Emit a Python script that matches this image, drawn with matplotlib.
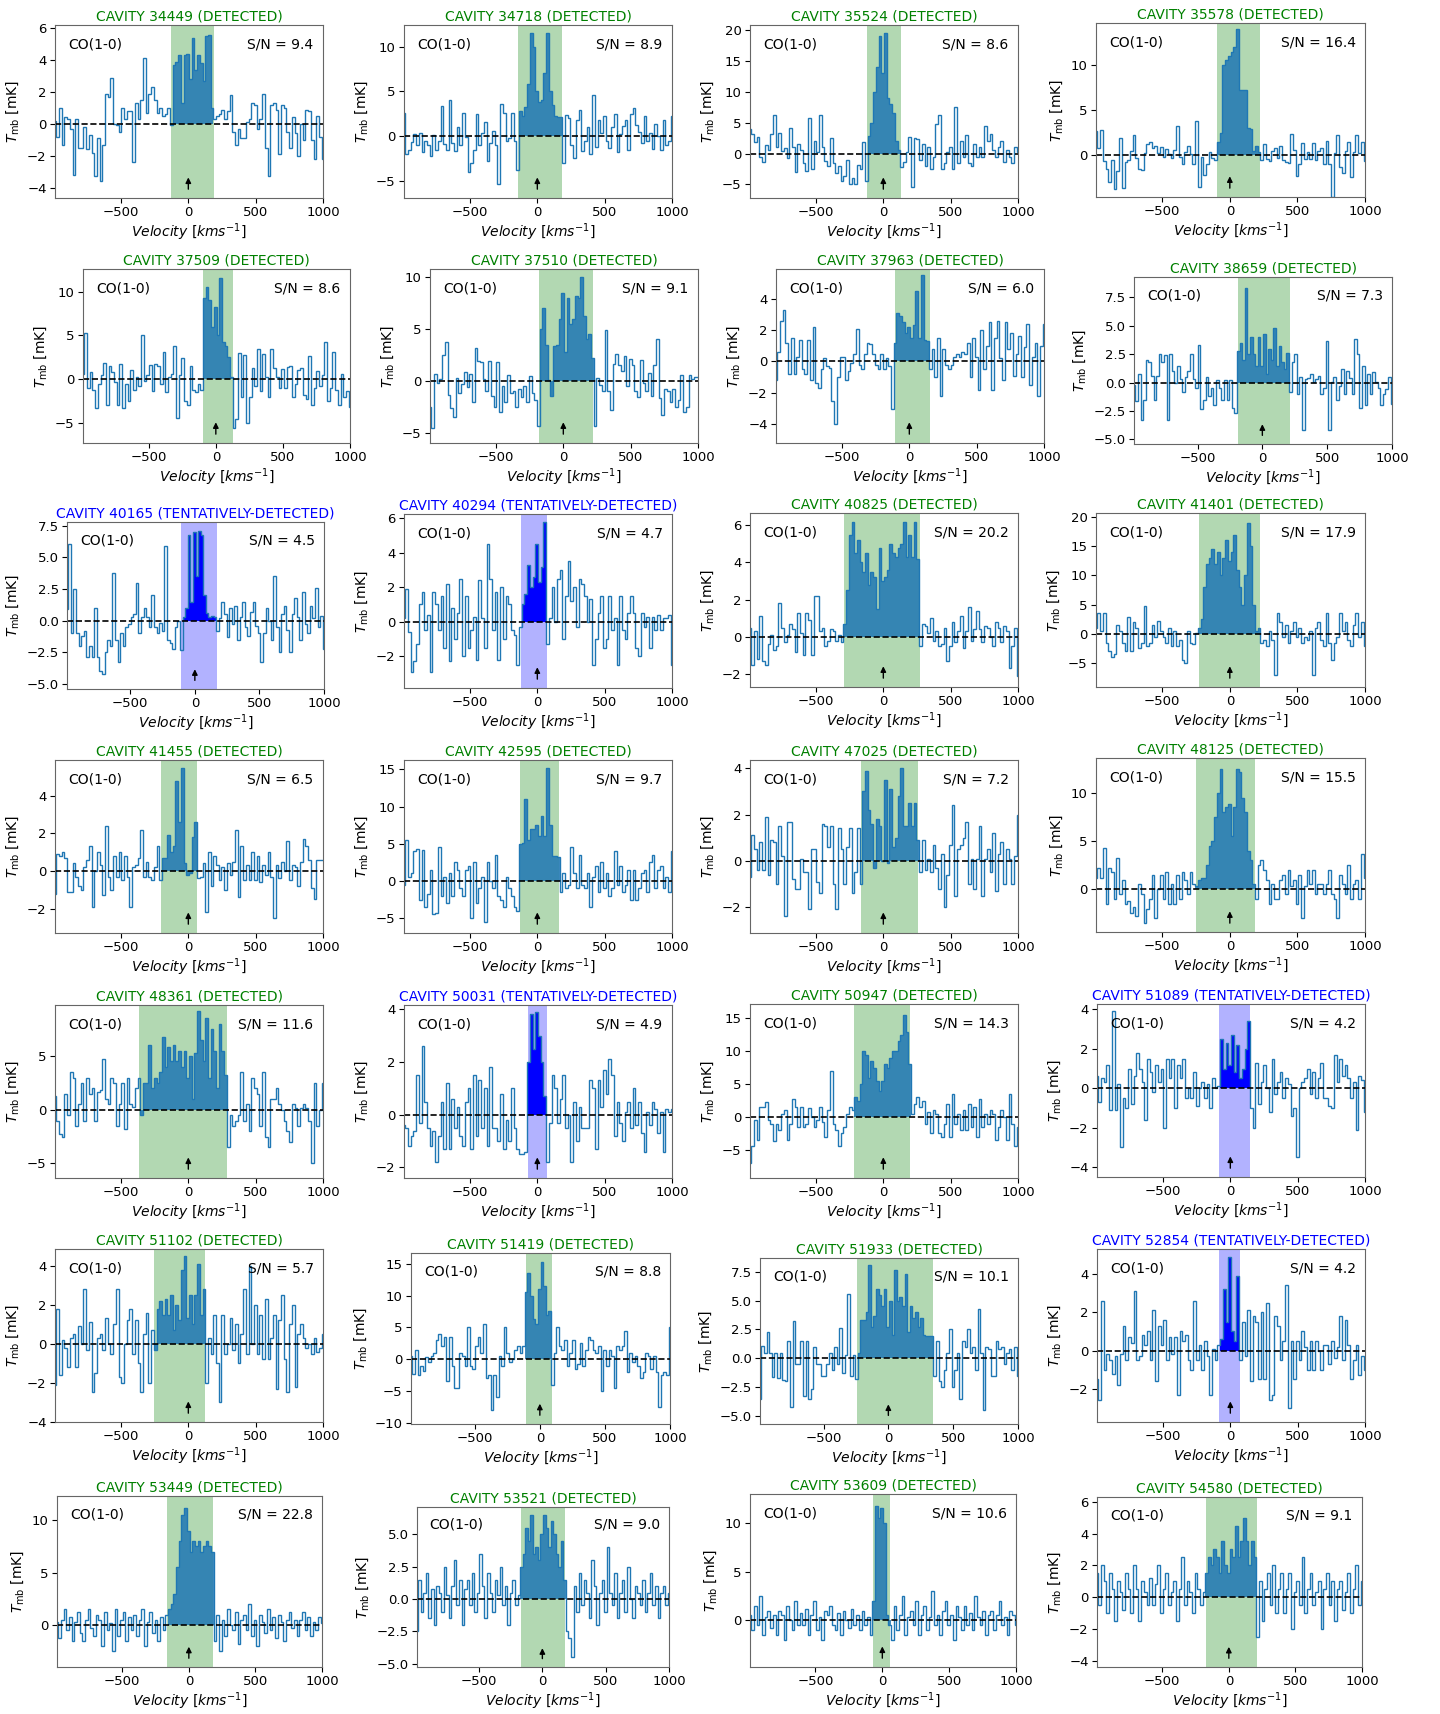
import numpy as np
import matplotlib.pyplot as plt

plt.rcParams['font.size'] = 9.5

W, H = 1440, 1714   # output size in pixels (dpi=100)

# Velocity channels (centres, km/s), common to all spectra
vel = np.linspace(-990, 1000, 100)
dv = vel[1] - vel[0]
edges = np.append(vel - dv/2, vel[-1] + dv/2)

ids = ['34449', '34718', '35524', '35578',
       '37509', '37510', '37963', '38659',
       '40165', '40294', '40825', '41401',
       '41455', '42595', '47025', '48125',
       '48361', '50031', '50947', '51089',
       '51102', '51419', '51933', '52854',
       '53449', '53521', '53609', '54580']
tentative = ['40165', '40294', '50031', '51089', '52854']
snr = [9.4, 8.9, 8.6, 16.4, 8.6, 9.1, 6.0, 7.3, 4.5, 4.7, 20.2, 17.9, 6.5, 9.7,
       7.2, 15.5, 11.6, 4.9, 14.3, 4.2, 5.7, 8.8, 10.1, 4.2, 22.8, 9.0, 10.6, 9.1]

# Line windows (km/s)
win_lo = [-130, -140, -120, -92, -96, -178, -110, -187, -104, -123, -292, -228, -202, -130,
          -164, -253, -366, -69, -216, -82, -253, -108, -245, -85, -164, -171, -67, -172]
win_hi = [188, 185, 134, 225, 130, 219, 154, 216, 168, 69, 274, 222, 68, 161,
          260, 188, 284, 69, 199, 147, 127, 94, 346, 75, 180, 180, 58, 213]

# y ranges (mK)
ylims = [(-4.65, 6.2), (-6.9, 12.4), (-7.2, 20.8), (-4.65, 14.7),
         (-7.3, 12.6), (-6.0, 10.8), (-5.2, 5.9), (-5.4, 9.3),
         (-5.4, 7.8), (-3.85, 6.25), (-2.7, 6.66), (-9.1, 20.7),
         (-3.3, 5.9), (-7.0, 16.25), (-3.12, 4.36), (-4.43, 13.6),
         (-6.35, 9.75), (-2.4, 4.16), (-9.3, 17.2), (-4.5, 4.27),
         (-4.02, 4.87), (-10.2, 16.7), (-5.7, 8.7), (-3.73, 5.3),
         (-4.0, 12.3), (-5.25, 7.1), (-4.8, 13.0), (-4.4, 6.3)]

# Axes boxes in pixels: left, right, top, bottom
boxes = [(55, 323, 25, 198), (404, 672, 25, 198), (750, 1018, 25, 198), (1096, 1365, 23, 197),
         (83, 350, 269, 443), (430, 698, 269, 443), (776, 1044, 269, 443), (1134, 1392, 277, 444),
         (67, 324, 522, 689), (404, 672, 514, 688), (750, 1018, 513, 687), (1096, 1365, 513, 687),
         (55, 323, 760, 933), (404, 672, 760, 933), (750, 1018, 760, 933), (1096, 1365, 758, 932),
         (55, 323, 1005, 1178), (404, 672, 1005, 1178), (750, 1018, 1004, 1178), (1097, 1365, 1004, 1177),
         (55, 323, 1249, 1422), (411, 670, 1253, 1424), (760, 1018, 1258, 1424), (1097, 1365, 1249, 1422),
         (57, 322, 1496, 1667), (417, 669, 1507, 1667), (750, 1016, 1494, 1667), (1097, 1362, 1497, 1667)]

# CO(1-0) main-beam temperatures (mK), one value per channel
t34449 = [0.2, -0.8, 1.0, -1.3, 0.4, 0.3, -0.3, -3.2, 0.3, -1.5,
          -1.5, -0.2, -1.6, -0.7, -1.8, -3.3, -0.9, -3.6, -1.3, 1.9,
          1.7, 2.9, 0.0, -0.1, -0.5, 1.0, 0.3, 0.8, 0.8, -2.4,
          1.3, 0.3, 1.5, 4.1, 0.7, 1.9, 2.3, 1.5, 0.7, 1.0,
          0.5, 0.6, 1.0, -0.1, 3.7, 3.9, 4.3, 1.3, 4.3, 4.4,
          2.8, 5.4, 3.4, 4.3, 3.8, 2.7, 5.5, 5.6, 1.0, 0.3,
          0.5, 0.6, 0.9, 0.3, 0.8, 1.8, -0.5, -1.3, -0.3, -0.9,
          -0.9, 0.1, 0.3, 1.3, 1.2, -0.3, 0.3, 1.9, -1.5, -3.3,
          1.2, 1.3, 0.9, -1.9, 1.2, 1.0, -0.5, -1.5, 0.4, -0.6,
          -2.0, 0.0, -1.0, 0.9, 0.8, -1.0, -2.2, 0.5, -0.8, -2.2]
t34718 = [2.6, -2.0, -1.6, -0.6, 0.2, -1.0, 0.3, -1.8, -0.5, -1.0,
          -2.2, 0.1, -1.5, -0.5, 3.4, -0.9, -1.6, 4.0, -0.8, -1.7,
          1.0, -1.0, 2.6, -0.1, -4.0, -3.0, -1.5, 2.5, -1.0, 0.4,
          1.6, -2.8, -0.8, 0.6, -1.0, -5.3, 3.6, 2.6, -0.5, -0.2,
          2.6, -0.5, -3.8, 2.8, 2.2, 3.3, 5.8, 11.5, 10.0, 5.0,
          3.8, 4.0, 7.0, 11.5, 5.0, 3.5, 2.2, 2.1, 2.1, -3.0,
          2.4, 2.0, -1.0, -2.4, 1.8, 2.9, -1.7, -0.5, 1.0, -2.0,
          4.6, -1.2, 1.8, 0.3, 2.3, -0.5, -1.3, 1.0, 2.5, -1.8,
          0.2, 1.1, 1.8, -1.5, 2.5, 3.1, 1.2, 0.5, -0.8, 2.3,
          -0.5, 0.3, -1.4, 1.3, 0.0, -1.5, 1.8, -1.0, -0.5, 2.2]
t35524 = [4.0, 3.2, 1.8, 2.6, -0.5, -1.3, 1.3, 0.6, 3.2, 6.3,
          1.0, 3.4, 0.4, 0.9, -0.8, 4.2, 1.0, -3.0, 1.6, 0.5,
          -1.5, -2.8, 5.8, -2.5, 2.0, 0.2, 6.2, 1.0, -1.2, -2.0,
          2.5, -1.5, -3.2, -2.0, -4.4, -3.6, -1.0, -5.0, -4.0, -5.0,
          -1.8, -2.5, 1.8, -4.5, 2.8, 5.0, 10.0, 14.0, 19.0, 13.0,
          19.5, 9.0, 8.0, 6.6, 2.0, 0.6, -2.2, -1.4, 0.2, 2.6,
          -5.5, 2.5, 2.4, -1.0, 1.5, -2.0, 1.0, -2.5, -0.5, 4.8,
          6.3, -2.5, -1.5, 0.3, 1.0, -2.5, 7.6, -1.5, 2.0, -0.5,
          3.0, -1.5, -2.0, 1.6, -0.5, 1.0, -0.5, 4.5, 2.0, 3.2,
          0.5, -0.6, 1.0, 2.0, -1.3, 0.5, -0.5, -1.5, 1.0, 0.3]
t35578 = [2.7, 0.8, 2.8, -0.6, -1.5, -3.0, -0.5, -3.8, -1.8, 1.9,
          -3.7, -0.8, -0.5, 0.5, 2.2, -0.3, -1.5, -1.6, 0.2, 1.2,
          1.5, 0.8, 1.0, 0.2, 0.9, -0.2, 0.7, 0.1, -0.3, 0.6,
          3.2, -0.2, -1.0, 0.3, 1.0, 0.1, -1.0, 3.8, -3.5, -0.2,
          -2.2, -1.0, 0.3, -0.3, -0.5, 1.5, 2.5, 10.0, 10.6, 11.0,
          11.5, 12.0, 14.0, 7.3, 7.3, 7.2, 3.0, 2.9, 0.5, 1.0,
          0.3, -0.5, 1.2, -0.4, -0.6, 0.5, 0.8, -0.3, 1.0, -0.5,
          -0.8, -0.9, 2.4, 0.6, -2.3, -1.0, 1.3, -0.4, 0.3, -0.4,
          1.3, -0.5, 0.5, 0.8, -1.0, 1.6, -1.0, -4.6, 0.2, 2.3,
          -1.3, -2.0, 0.5, 1.5, -2.4, 0.4, 2.2, 0.2, 1.5, -0.6]
t37509 = [0.6, 5.3, -1.0, 0.8, -1.2, -3.3, -0.5, 0.5, 1.8, -3.0,
          1.5, 0.8, -0.3, -3.0, 1.7, -3.3, -0.6, -2.5, 1.0, -1.2,
          0.3, -0.8, 5.0, -0.2, 0.5, 1.6, -1.3, 1.7, 1.5, -0.5,
          3.1, -1.5, 0.2, 0.6, 3.8, -4.4, 0.5, 2.4, -2.5, -3.0,
          1.5, -1.2, -1.5, -0.5, -1.2, 9.3, 10.5, 9.0, 6.0, 8.2,
          5.0, 11.6, 4.3, 3.8, 2.5, 0.3, -5.6, -4.5, 3.0, -2.0,
          2.8, -5.0, -2.0, 1.3, -0.8, 3.5, -1.4, 2.9, 0.2, -2.0,
          3.5, 1.3, 0.3, -1.0, 1.2, -1.0, 1.4, 1.5, -2.0, -0.5,
          1.0, 1.3, -1.8, -2.3, 2.6, -3.0, -1.0, 0.9, -0.8, 0.5,
          4.3, -2.5, -1.0, 3.1, -1.2, -3.0, 0.6, -2.0, -1.3, -3.2]
t37510 = [-2.5, -4.6, 0.7, -0.2, 0.2, 2.5, 3.8, -1.4, -2.6, -3.5,
          0.3, -1.2, -0.3, 0.9, -0.6, 0.7, -2.0, 3.2, 1.9, 1.8,
          0.2, -1.0, 1.9, -1.5, -2.5, 1.8, -3.0, -0.5, -2.0, 0.6,
          -1.2, -1.0, -2.5, -0.8, -1.6, -0.5, -2.0, 0.5, -1.2, -1.8,
          -4.4, 5.0, 7.0, 3.5, 0.1, -1.5, 3.4, 3.5, 6.0, 8.5,
          2.8, 8.0, 5.5, 6.0, 8.2, 8.0, 10.0, 6.3, 4.0, 4.5,
          2.2, -4.4, 0.3, -0.4, -1.0, 4.9, -1.0, -2.8, 1.6, 2.6,
          1.5, 1.0, 2.4, -0.5, 2.1, 1.5, -1.0, -1.6, 2.0, -0.2,
          -1.0, 0.8, -1.5, 1.5, 4.0, -1.7, -3.3, -0.8, -1.0, -2.0,
          -0.8, -2.5, -1.8, 0.6, -3.0, -2.5, 0.6, 0.2, 0.4, 0.4]
t37963 = [-1.2, 0.6, 2.6, 3.3, 1.2, -0.8, 1.5, -0.8, 0.3, 1.4,
          -0.5, -0.8, 1.4, -1.2, 2.2, -1.4, -1.7, -0.5, 0.2, -0.3,
          -0.4, -2.5, -4.0, -1.0, 0.3, 0.3, -1.2, -0.6, -0.1, 0.5,
          2.1, -0.2, -0.5, 0.5, 1.2, 1.1, 0.5, -0.2, -0.5, 0.5,
          -0.5, 0.2, -0.3, -3.0, 1.2, 3.1, 2.9, 2.5, 1.8, 2.2,
          1.5, 2.3, 4.5, 1.5, 5.5, 1.4, 1.3, -0.5, 0.8, -1.0,
          1.5, -2.2, 0.8, -0.2, -0.5, -0.2, 0.3, 0.5, 0.3, 0.6,
          0.5, 1.2, -1.0, 1.5, 0.3, -1.8, 2.0, -0.5, 1.0, 2.5,
          -1.8, 1.5, 2.6, 0.2, -1.2, 2.5, 0.8, 1.8, -0.9, 0.5,
          1.6, -1.0, 0.9, 2.4, -1.5, 0.3, 1.2, -2.2, 1.0, 2.4]
t38659 = [-0.2, -1.6, 0.8, -3.3, -1.5, 2.0, 1.8, 0.6, -1.5, 0.6,
          2.5, 1.8, 2.4, -3.3, 2.5, 1.0, 0.0, 1.5, 0.3, -0.8,
          0.5, 1.0, 2.5, 0.3, -0.5, 3.3, -2.3, -1.5, 0.5, -1.2,
          -0.5, -2.0, 0.2, -0.5, -1.5, 0.2, -1.5, 0.2, -2.2, -2.7,
          2.8, 3.5, 2.0, 8.3, 2.5, 4.0, 2.5, 1.5, 4.0, 1.5,
          4.3, 0.8, 3.0, 2.0, 4.8, 1.5, 3.2, 1.8, 1.2, 2.6,
          -0.8, 1.8, 2.5, -1.0, 0.5, -4.2, 0.3, 0.4, 0.8, 0.1,
          0.3, 0.6, -1.0, -0.5, 3.7, -4.2, 0.1, 0.5, -1.5, -0.3,
          1.2, -1.0, 1.0, 0.4, -1.0, 3.8, 2.5, -2.2, 1.5, -2.0,
          0.8, -1.0, 0.9, 0.1, -0.5, -2.0, -1.0, -0.6, 0.5, -1.9]
t40165 = [0.9, 6.1, -1.0, 2.5, -1.0, -2.0, -1.2, -0.8, -2.9, -2.0,
          -2.9, 1.0, -2.9, -4.0, -4.2, -2.5, -1.5, -2.0, 3.8, -1.5,
          -3.3, -1.0, -2.0, -0.5, -0.3, 0.3, 0.5, 3.0, -1.0, 0.3,
          1.0, 0.3, -0.5, 2.0, -0.5, -1.0, -0.2, -0.8, 5.9, -1.5,
          -1.8, -2.2, -0.5, 0.0, -2.3, 0.3, 1.0, 6.8, 1.5, 7.0,
          3.5, 7.1, 6.8, 2.0, 0.6, 0.3, 0.4, 0.3, -0.8, 0.2,
          1.5, 0.5, -1.3, 1.0, -0.3, 1.2, -1.5, 0.3, 1.5, -0.5,
          -1.2, 0.7, 1.5, -0.4, -1.0, -3.3, -1.0, 1.0, 0.0, -1.5,
          3.5, -0.5, -2.5, 0.5, 1.2, -0.7, -2.5, 0.5, 1.8, 0.3,
          -1.5, 2.3, -0.3, -1.0, 1.2, 0.2, 2.6, -0.5, 0.4, -2.2]
t40294 = [0.2, 1.9, -0.6, -2.9, -2.3, -1.3, 1.0, 1.7, -0.5, 0.4,
          -2.9, 1.7, 1.0, -0.5, 1.5, -1.5, 2.2, -2.3, 0.8, -1.0,
          0.5, 2.5, -2.0, 1.5, -1.5, -0.5, 0.3, -2.2, 2.4, 0.2,
          -1.5, 4.5, 2.5, -0.5, 1.7, -2.2, 2.0, -1.0, 1.5, 1.0,
          -0.5, -0.8, -2.5, -0.3, 1.0, 1.6, 3.3, 2.0, 2.6, 4.5,
          2.3, 3.2, 5.8, -1.3, 0.2, 2.0, 0.0, 2.5, 3.0, -1.0,
          1.5, 3.5, 1.2, 2.0, -0.3, 2.5, 2.2, 1.5, 0.0, 1.3,
          -2.5, -1.0, 0.5, 1.5, -1.5, -1.0, 1.5, -0.5, 0.2, -2.5,
          1.5, -0.5, -1.0, 0.5, 1.5, 0.5, -1.5, -2.0, 0.5, -0.3,
          0.3, -1.5, 0.3, -0.5, 0.4, -0.5, 0.2, 0.2, 0.4, -2.5]
t40825 = [0.5, -1.5, 0.3, -1.2, 1.1, -1.3, -1.5, -0.4, 0.1, -0.7,
          -0.5, 1.8, 0.5, -0.3, 0.1, 0.7, 0.4, -0.8, 1.3, 0.2,
          -1.0, 1.3, 0.9, -1.0, 2.2, 2.2, 0.3, 0.5, -0.5, -0.2,
          0.4, 0.3, -0.2, 0.1, -0.3, 0.7, 2.5, 5.5, 6.2, 4.5,
          5.2, 4.0, 3.5, 4.5, 2.8, 3.5, 3.2, 1.5, 4.8, 3.0,
          3.2, 3.6, 5.0, 4.5, 4.3, 4.8, 5.0, 6.2, 4.3, 5.5,
          4.3, 6.2, 4.2, -0.5, 0.7, 0.6, 0.2, 1.0, -0.2, 0.3,
          -0.5, -0.4, 0.5, -1.3, -0.5, 0.8, -0.3, 0.3, 1.1, -0.6,
          0.3, 1.6, -0.2, 0.4, 1.4, 0.4, -0.3, 0.6, 0.5, 0.0,
          -0.5, 0.8, 0.5, -0.3, 0.6, 0.3, -1.7, -0.5, 0.5, -2.1]
t41401 = [1.0, 3.5, 0.5, 3.5, -1.5, -3.0, -4.0, -3.5, 1.5, 0.5,
          -1.5, -3.0, 2.9, -3.0, 2.0, 1.0, -2.5, -1.5, 4.7, -2.0,
          -1.5, 1.5, -0.5, 2.2, 0.5, -0.5, -1.5, 1.0, -2.0, 0.5,
          -2.0, -1.0, -4.5, -5.0, 0.5, -1.5, -1.7, 0.2, 1.0, 2.5,
          8.0, 12.0, 13.0, 14.5, 12.0, 14.0, 10.0, 13.0, 16.0, 12.5,
          14.0, 17.0, 11.0, 8.0, 5.0, 10.0, 19.0, 15.0, 5.0, 0.5,
          1.0, -1.5, -1.0, -2.0, 0.5, -1.0, -7.0, 3.5, 2.0, -0.5,
          1.5, -1.5, 0.5, 2.0, -0.5, 1.0, -1.5, -0.5, -1.0, 0.5,
          -7.0, 1.0, 2.0, -1.0, -2.0, 3.5, -1.5, -4.5, -1.5, -0.5,
          3.5, 0.5, 2.0, -1.0, -2.0, 1.5, 3.5, -0.5, 2.0, -2.0]
t41455 = [-1.2, 0.9, 0.8, 1.0, 0.7, -1.1, -1.1, 0.4, -0.3, -0.8,
          -1.0, 0.2, 0.6, 1.3, -1.9, 0.0, 1.0, 0.3, -1.3, 2.4,
          -0.3, -1.0, 0.8, -0.3, 1.0, -0.5, 0.8, -0.3, -1.9, 0.2,
          0.3, 0.7, 2.2, -0.3, 0.5, -0.3, -0.5, 0.2, 1.3, -0.5,
          0.7, 0.7, 1.9, 1.0, 1.3, 4.8, 2.6, 5.5, 0.4, -0.2,
          -0.1, 1.8, 2.6, -0.4, -0.3, 0.4, -2.2, 1.0, -0.8, 0.8,
          0.3, -0.5, 0.2, -1.0, 0.4, -0.2, 0.5, 2.2, -1.4, 1.3,
          -0.5, 0.3, -0.5, 1.0, -0.5, 0.8, -0.6, 0.3, -0.2, 1.0,
          -0.3, -2.5, 0.3, -0.4, 0.5, 0.0, 1.6, -0.5, 0.3, 0.2,
          -0.8, 0.5, 1.7, 1.3, 0.6, -0.9, -1.5, 0.6, 0.6, 0.6]
t42595 = [-0.5, 5.5, 0.5, 1.0, 4.0, 4.3, -2.5, 4.2, -3.5, -1.8,
          1.5, -4.5, -4.3, 4.5, -2.0, 0.5, -3.0, 1.0, -2.0, 2.5,
          1.5, -1.0, -2.0, 1.5, 2.0, -5.0, 2.5, -3.0, -1.0, 0.5,
          -5.5, 2.5, 0.0, -1.0, 3.5, -2.0, -2.5, -3.5, 0.5, -1.0,
          -2.0, -3.5, -4.0, 5.0, 5.1, 11.0, 5.5, 7.0, 7.0, 7.5,
          6.0, 8.7, 6.0, 15.2, 7.5, 3.3, 3.3, 3.2, -1.5, 1.0,
          -1.0, -0.5, 4.5, 1.0, -1.0, 3.5, -0.5, -1.0, 1.0, -3.5,
          0.5, 2.0, -1.5, 2.5, -1.0, 1.0, -2.0, -1.0, 4.0, -0.5,
          2.0, -1.5, -0.5, 1.5, -2.5, 1.5, -2.5, -1.0, 1.0, 1.5,
          -1.5, 2.5, 3.5, -1.0, 1.5, 2.0, -1.0, 0.5, -1.5, 4.0]
t47025 = [-0.7, 1.1, 0.5, -0.4, 0.8, -0.4, 1.9, -0.6, 0.9, 0.8,
          -1.0, 1.5, 0.2, -2.4, 1.7, 1.7, -0.8, -1.2, -1.2, 0.1,
          -0.5, -0.5, -2.1, 0.5, 0.5, -0.9, -1.4, 1.6, 1.5, 0.6,
          1.5, -1.0, -2.1, 1.4, 0.5, -1.0, 0.6, 1.4, -1.4, -0.5,
          1.4, -1.0, 3.0, 3.9, 2.2, 1.6, -0.3, 1.8, 1.5, 0.0,
          3.5, -0.1, 3.1, 0.6, 1.0, 2.8, 4.0, 1.5, 1.5, 2.5,
          1.5, 2.5, 0.9, -0.5, 0.9, -0.4, 0.1, -0.5, 0.7, -0.3,
          -1.2, 0.3, -2.0, -0.6, 0.7, 2.4, -1.5, 0.5, 0.7, 1.0,
          1.7, -1.0, 0.1, -1.2, 0.1, 1.5, -1.5, 0.1, 0.5, -0.5,
          1.2, -1.3, 0.3, 0.8, -1.0, 0.5, 0.1, -1.0, 0.2, 2.0]
t48125 = [1.2, 2.2, 1.2, 4.3, -1.5, 2.2, 1.8, -1.0, 3.2, -0.5,
          1.0, -1.5, -1.2, -2.5, -1.8, -2.8, 0.5, -0.5, -3.5, -2.0,
          -1.0, 1.5, -3.0, 0.0, 1.5, -1.0, 1.8, -1.5, 0.5, -1.5,
          1.5, -1.0, 1.8, 1.0, -0.5, 1.8, 0.5, 0.3, 1.0, 1.2,
          1.2, 2.5, 4.5, 5.0, 7.5, 10.0, 12.5, 8.0, 8.5, 8.8,
          5.5, 8.5, 12.5, 12.2, 9.5, 8.0, 4.0, 3.0, 0.5, -1.0,
          2.5, 3.0, 2.0, 1.0, -1.5, 0.5, -1.0, -1.0, 1.0, 1.5,
          -0.5, 2.0, 0.3, 1.0, -1.5, 1.5, -3.0, 0.3, 2.0, 0.5,
          2.0, -0.5, 0.5, 0.5, -0.5, 0.5, 2.0, -0.5, -1.0, -3.0,
          1.5, 0.5, -0.5, 2.5, -1.0, 0.5, 1.0, -1.0, 3.7, 1.2]
t48361 = [1.3, -1.0, -2.3, -2.5, 1.5, -0.5, 3.5, 3.0, -1.5, 0.5,
          2.5, -1.0, 3.0, 1.5, 2.0, -1.0, 1.7, 1.8, 4.7, 1.0,
          0.5, 3.0, 2.5, -1.5, 0.5, 2.5, -1.8, 3.0, 0.5, 0.3,
          2.0, 3.0, -0.5, 2.5, 2.5, 6.0, 2.0, 3.0, 2.5, 3.5,
          6.8, 4.0, 5.8, 4.5, 6.0, 4.5, 5.5, 4.0, 5.5, 3.0,
          5.0, 1.0, 5.3, 9.2, 6.5, 4.5, 8.5, 3.0, 7.5, 5.5,
          2.0, 8.0, 5.5, 3.2, -3.5, -0.5, -1.5, -1.0, -0.5, 3.5,
          -1.0, 0.5, -2.0, 3.0, 2.0, 1.5, -1.5, 3.5, -2.5, -3.5,
          1.0, 1.0, 2.0, 0.5, 0.0, -1.0, -2.0, -3.0, 0.5, 0.2,
          -1.5, 0.2, 0.5, 0.2, -1.0, -5.0, 2.5, -1.5, 0.0, 2.5]
t50031 = [-0.4, -0.5, -1.2, -0.8, -0.6, 1.5, -0.3, 2.6, 0.5, -0.5,
          -1.2, -0.6, -1.8, -0.8, 0.5, -1.3, 1.2, -1.3, 0.6, -0.5,
          0.3, -0.8, -1.2, 0.5, 1.0, -1.3, 1.5, -0.8, 1.3, -0.5,
          1.0, -1.2, 1.8, -0.5, -0.5, -1.0, 0.8, -1.3, -0.2, -1.0,
          1.0, -0.5, -1.3, -1.5, -1.5, -1.4, 2.0, 3.8, 2.5, 3.9,
          3.0, 2.0, 0.7, -1.8, -0.3, 1.5, 1.0, -0.3, 0.6, 1.5,
          -0.5, 0.0, -1.8, 0.5, -1.0, 0.3, -0.5, -0.5, -0.5, 1.3,
          1.0, -1.3, 1.3, 0.3, 1.7, 0.8, 2.1, 1.5, -0.8, 0.5,
          -0.3, -1.0, 0.1, 0.5, -0.5, 1.0, -0.4, 0.5, -0.7, -1.4,
          0.1, -0.4, 0.5, 0.2, -0.7, 0.1, -1.4, 0.2, 0.1, 0.2]
t50947 = [-7.0, -4.5, -0.5, -3.5, 1.5, 1.5, 2.3, -0.5, -1.0, -3.7,
          -1.0, -2.0, 0.5, 1.0, -3.5, -1.0, 2.8, 1.5, -1.5, 1.5,
          -1.5, -1.0, 1.3, 0.0, -1.5, -0.5, 1.5, -0.7, -3.0, 1.0,
          7.0, -1.0, -2.0, -4.5, -2.5, -1.5, 0.5, 1.5, 1.0, 3.0,
          2.5, 5.0, 10.0, 9.5, 6.0, 8.5, 7.5, 5.5, 4.0, 5.5,
          8.0, 7.5, 9.0, 10.0, 10.0, 11.5, 12.5, 15.5, 13.0, 8.0,
          0.5, 2.0, 3.0, 1.5, 2.5, -1.0, 0.8, -2.5, 1.0, 0.5,
          -2.5, -3.0, -1.0, 2.0, -3.0, 3.5, -1.0, 0.5, -2.0, 1.0,
          -2.0, 2.0, -1.5, 1.5, -3.0, 2.8, -1.5, 0.5, -1.0, 1.0,
          0.5, -3.5, -1.5, 1.0, 0.0, -3.5, 3.5, -1.0, -4.5, -1.5]
t51089 = [0.6, -0.7, 0.5, 0.3, 1.2, -1.1, 3.9, -1.1, 0.2, -3.0,
          -0.5, -1.0, 1.0, -0.8, 0.6, 1.8, 1.0, 0.3, -1.6, 1.5,
          0.8, -0.2, 1.2, 0.3, 1.0, -2.0, 1.5, 0.5, 1.5, -1.0,
          1.2, 0.5, 1.5, -0.5, 0.0, -0.5, 0.8, -0.9, 0.0, 0.3,
          -0.5, 0.2, -1.0, 0.5, 0.0, 0.1, 2.5, 1.0, 2.3, 1.2,
          2.7, 0.8, 2.2, 0.5, 1.0, 2.0, 3.4, -1.0, -2.0, 1.3,
          -0.8, 0.3, 1.2, 0.0, -1.2, 1.5, -0.3, 0.3, 0.8, -0.5,
          0.5, 0.2, -1.4, -1.0, -3.5, 0.0, 0.3, 0.5, 1.0, -0.3,
          0.8, -0.5, 0.5, 1.3, -0.5, -0.5, -0.9, -1.0, 1.7, 0.3,
          1.5, 0.6, 1.2, 0.5, -0.5, 0.3, -2.1, 0.6, 0.4, -1.2]
t51102 = [-2.1, 1.8, -1.6, 0.2, -0.2, -1.2, 0.3, 0.5, -1.2, 0.9,
          0.0, 2.8, -0.3, 1.1, -2.5, -1.5, 0.3, 0.5, -0.3, 1.3,
          0.0, -0.5, 1.0, 2.8, -1.7, -2.0, 0.0, 1.2, 1.8, -0.5,
          1.2, -1.0, -2.5, 0.5, 1.6, -2.0, 0.7, -0.3, 1.8, 2.2,
          1.5, 2.3, 1.5, 2.5, 0.7, 2.0, 1.2, 3.8, 4.5, 1.3,
          2.5, 1.0, 2.5, 4.1, 1.5, 2.8, -2.0, 0.3, -0.5, 1.5,
          -1.0, -3.0, 1.5, -0.5, 0.0, 1.3, -0.3, 1.0, -1.0, 0.5,
          2.8, -0.5, 4.0, 0.0, 2.0, -0.5, 1.5, -0.8, 2.3, -0.8,
          0.3, 1.5, -2.3, 1.2, 2.5, -0.8, -2.5, 1.0, 2.0, -2.2,
          0.5, 1.0, 0.3, -0.2, 0.0, -0.5, 0.3, -0.4, -0.2, 0.5]
t51419 = [0.5, -2.3, 1.5, -2.5, -1.0, -1.8, 0.3, -0.5, 0.5, 1.0,
          3.0, 4.0, 2.0, 3.5, -3.5, 3.5, -1.0, -4.5, -4.5, 1.0,
          0.5, -1.0, 5.0, -1.0, -1.5, 2.0, 3.5, 1.0, 5.5, -3.0,
          -2.5, -8.0, -2.5, -6.0, 0.5, -1.0, 5.0, 1.0, -0.5, 0.0,
          1.5, 2.0, 1.0, 2.0, 10.5, 13.5, 10.0, 6.3, 5.5, 11.0,
          15.3, 11.5, 7.0, 7.5, -4.0, 1.0, 5.0, 2.0, 1.5, 3.0,
          -1.0, 1.0, 3.0, -1.5, -0.8, 2.5, -1.0, 1.5, 3.5, 3.0,
          1.5, 1.0, 2.0, -5.0, 1.5, -1.0, 1.5, 0.5, -4.5, 2.0,
          1.5, 2.0, 4.5, -2.0, 1.0, -0.5, 0.5, -1.0, -3.0, -2.0,
          1.0, 0.5, -1.5, 0.5, -2.0, -7.5, -2.5, -2.0, -2.5, 5.0]
t51933 = [-3.5, 1.1, 0.5, 2.3, 0.5, -1.6, 0.5, -1.7, 0.5, -1.9,
          -2.0, 1.5, -4.2, 3.2, -0.5, -0.5, 1.5, -3.3, 1.5, -3.5,
          -2.7, 1.0, -0.5, -0.5, -1.5, -1.5, -0.5, 0.5, -1.0, 1.0,
          -0.5, 2.6, -1.3, 0.3, 5.6, -1.5, 0.3, -1.8, 0.5, 3.3,
          3.3, 4.0, 8.1, 2.7, 3.7, 6.0, 5.5, 4.5, 6.0, 2.7,
          5.0, 2.0, 7.7, 5.0, 5.3, 4.5, 7.3, 2.3, 4.5, 3.5,
          4.0, 2.7, 3.5, 2.0, 1.9, 1.9, 1.9, -1.5, 1.5, -2.0,
          -2.5, -1.0, 0.5, 2.5, -2.5, -1.0, 0.5, -3.5, 1.5, 1.0,
          2.5, 0.5, 1.0, -1.0, 4.3, 0.5, -4.5, 1.0, 0.8, -1.5,
          -1.5, 1.5, 0.8, 1.0, -0.5, 0.5, 0.8, -1.0, 1.0, -1.5]
t52854 = [-1.5, -2.6, 2.6, -1.0, -0.2, -0.5, -1.2, -0.3, -1.8, -0.2,
          1.3, -0.5, 0.7, 0.4, 3.1, -0.5, -0.3, 0.8, 0.3, 1.0,
          -0.5, 2.1, -1.6, 1.3, 0.3, 1.6, -0.5, 0.7, -0.2, 0.7,
          -2.3, 1.0, 0.5, 0.8, -0.5, -1.0, 2.6, -0.5, 0.3, -1.0,
          0.5, -0.3, -2.3, 0.1, -0.5, 0.3, 0.6, 3.2, 1.5, 4.9,
          1.0, 0.5, 3.9, -0.5, 1.5, -0.3, 2.1, -1.6, 1.8, 1.5,
          -1.5, 2.0, -1.5, 2.5, -2.6, -2.3, 1.8, 1.3, -0.5, 0.5,
          3.4, -3.0, 0.5, -1.5, 0.5, -0.5, 1.0, 0.2, -1.0, 0.5,
          -1.0, 0.5, 0.0, -1.0, 0.3, 0.3, -0.7, 0.5, -0.4, 0.2,
          1.8, -0.5, 1.6, 0.3, -1.5, -0.5, 0.3, -1.3, -0.3, -1.0]
t53449 = [0.3, -1.2, 0.5, 1.5, -0.5, 0.8, -1.5, 0.3, 1.2, -0.8,
          -1.5, 0.5, 1.5, -0.3, -1.0, 1.0, 0.5, -2.0, 1.2, -0.5,
          0.2, -2.5, 1.5, -1.0, 0.5, 1.2, -1.5, 0.8, -0.5, 1.0,
          -1.0, 0.5, 1.5, -2.0, 0.3, 1.2, -0.8, 0.5, -1.5, 0.8,
          -0.5, 1.0, 1.5, 2.0, 3.0, 5.5, 8.0, 10.5, 11.2, 9.0,
          7.0, 8.0, 7.5, 8.0, 7.0, 7.5, 8.0, 7.5, 7.0, -1.5,
          1.0, -2.5, 0.5, -1.0, 1.5, 0.0, -0.5, 1.2, -1.8, 0.5,
          1.0, -0.5, 2.0, -1.0, 0.5, -2.0, 1.0, 0.3, -0.8, 1.5,
          -0.5, 0.8, -1.2, 1.0, 0.3, -1.5, 0.5, 1.2, -0.3, 0.5,
          -1.0, 0.5, 1.2, -0.5, 0.8, -1.0, 0.3, -0.5, 0.8, 0.2]
t53521 = [-2.5, 1.5, -1.0, 0.5, 2.0, -1.5, 0.8, -2.0, 1.0, 0.5,
          -1.0, 2.5, 0.3, -1.5, 1.0, 3.0, -0.5, 1.5, -2.0, 0.8,
          1.5, -0.5, 2.0, -1.0, 0.5, 3.5, 1.0, -1.5, 2.0, 0.5,
          -1.0, 1.5, 0.3, 2.5, -0.5, 1.0, -2.0, 0.5, 1.5, -0.5,
          0.3, 2.5, 3.5, 5.5, 4.5, 6.5, 3.5, 4.0, 3.0, 5.0,
          6.5, 5.5, 4.0, 6.0, 5.0, 3.5, 2.5, 4.5, 1.5, -2.5,
          -3.0, -4.5, 1.0, -1.0, 2.0, -0.5, 1.5, 0.5, -1.5, 3.0,
          1.0, -2.0, 0.5, 1.5, -1.0, 4.0, 0.5, -0.5, 2.0, -1.5,
          0.5, 1.5, -1.0, 2.5, 0.0, -1.5, 1.0, 0.5, -0.5, 1.5,
          -1.0, 0.5, 2.0, -0.5, 1.0, -1.5, 0.5, 1.0, -0.5, 0.5]
t53609 = [0.5, -1.0, 1.5, -0.5, 2.5, -1.5, 0.3, 1.0, -0.8, 0.5,
          -1.5, 1.0, 0.5, -2.0, 1.5, 0.0, -1.0, 2.0, -0.5, 0.8,
          -0.5, 1.2, -1.5, 0.5, 2.0, -1.0, 0.3, -2.0, 1.0, 0.5,
          1.5, -0.5, -1.0, 0.8, -1.5, 1.0, 0.0, -0.8, 1.2, -0.5,
          0.5, -1.0, 1.0, -0.5, 0.3, -1.5, 2.0, 11.8, 10.5, 11.6,
          10.0, 0.5, -0.5, -2.0, 1.5, -1.0, 0.5, 2.5, -1.5, 0.3,
          1.0, -0.5, 2.0, -1.5, 0.5, 1.5, -1.0, 0.3, 3.0, -0.5,
          0.5, -1.5, 1.0, 2.0, -0.5, 0.5, -2.0, 1.5, 0.3, -1.0,
          1.5, -0.5, 0.8, -1.0, 2.5, 0.3, -0.5, 1.0, -1.5, 0.5,
          1.0, -1.0, 0.5, 2.0, -0.5, 0.3, -1.5, 1.0, 0.5, -0.5]
t54580 = [1.5, -0.5, 2.0, 1.0, -1.0, 1.5, 0.5, -1.5, 1.0, 0.3,
          -0.8, 1.5, 0.5, -1.0, 2.0, 0.5, -1.5, 1.0, 0.3, -0.5,
          1.2, -0.5, 0.8, 2.0, -1.0, 0.5, 1.5, -0.5, 0.3, 1.0,
          -1.5, 0.5, 2.5, -0.5, 1.0, 0.3, -1.0, 1.5, 0.5, -0.5,
          0.3, 1.5, 2.5, 2.0, 3.0, 2.5, 1.5, 3.5, 2.0, 1.5,
          3.0, 2.5, 4.5, 2.5, 3.5, 5.0, 3.5, 2.0, 3.5, 2.5,
          -2.5, 1.0, -1.5, 0.5, 1.5, -0.5, 2.0, -1.0, 0.5, 1.5,
          -1.0, 0.5, 1.5, -2.0, 0.3, 1.0, -0.5, 2.5, -1.0, 0.5,
          1.5, -0.5, 0.3, 1.0, -2.0, 0.5, 1.5, -0.5, 1.0, -1.5,
          0.5, 1.0, -0.8, 0.3, 1.5, -1.0, 0.5, 2.0, -0.5, 1.0]

spectra = [t34449, t34718, t35524, t35578, t37509, t37510, t37963, t38659,
           t40165, t40294, t40825, t41401, t41455, t42595, t47025, t48125,
           t48361, t50031, t50947, t51089, t51102, t51419, t51933, t52854,
           t53449, t53521, t53609, t54580]


fig = plt.figure(figsize=(W/100, H/100), dpi=100)

for k, cid in enumerate(ids):
    tmb = np.asarray(spectra[k], dtype=float)
    assert len(tmb) == len(vel), cid
    left, right, top, bot = boxes[k]
    ax = fig.add_axes([left/W, 1 - bot/H, (right - left)/W, (bot - top)/H])

    tent = cid in tentative
    band_col = 'blue' if tent else 'green'

    # Integration window and the channels inside it
    ax.axvspan(win_lo[k], win_hi[k], color=band_col, alpha=0.3, lw=0)
    idx = np.where((vel > win_lo[k]) & (vel < win_hi[k]))[0]
    i0, i1 = idx[0], idx[-1]
    if tent:
        ax.stairs(tmb[i0:i1+1], edges[i0:i1+2], baseline=0, fill=True, color='blue', lw=0)
    else:
        ax.stairs(tmb[i0:i1+1], edges[i0:i1+2], baseline=0, fill=True, color='#1f77b4', alpha=0.85, lw=0)

    # Spectrum
    ax.stairs(tmb, edges, baseline=None, color='#1f77b4', lw=1.0)
    ax.axhline(0, color='k', ls='--', lw=1.2)

    # Arrow at the systemic velocity
    ax.annotate('', xy=(0, 0.135), xytext=(0, 0.035), xycoords=('data', 'axes fraction'),
                arrowprops=dict(arrowstyle='-|>', color='k', lw=1.0, mutation_scale=8))

    ax.text(0.05, 0.89, 'CO(1-0)', transform=ax.transAxes, va='center', fontsize=10)
    ax.text(0.965, 0.89, 'S/N = %.1f' % snr[k], transform=ax.transAxes, va='center', ha='right', fontsize=10)

    if tent:
        ax.set_title('CAVITY %s (TENTATIVELY-DETECTED)' % cid, color='blue', fontsize=10, pad=3)
    else:
        ax.set_title('CAVITY %s (DETECTED)' % cid, color='green', fontsize=10, pad=3)

    ax.set_xlim(-990, 1000)
    ax.set_ylim(*ylims[k])
    ax.set_xlabel(r'$Velocity\ [km s^{-1}]$', fontsize=10, labelpad=1.5)
    ax.set_ylabel(r'$T_{\rm mb}$ [mK]', fontsize=10)
    ax.tick_params(labelsize=9.5, pad=2.5)
    for sp in ax.spines.values():
        sp.set_color('0.4')

fig.savefig('out.png', dpi=100)
